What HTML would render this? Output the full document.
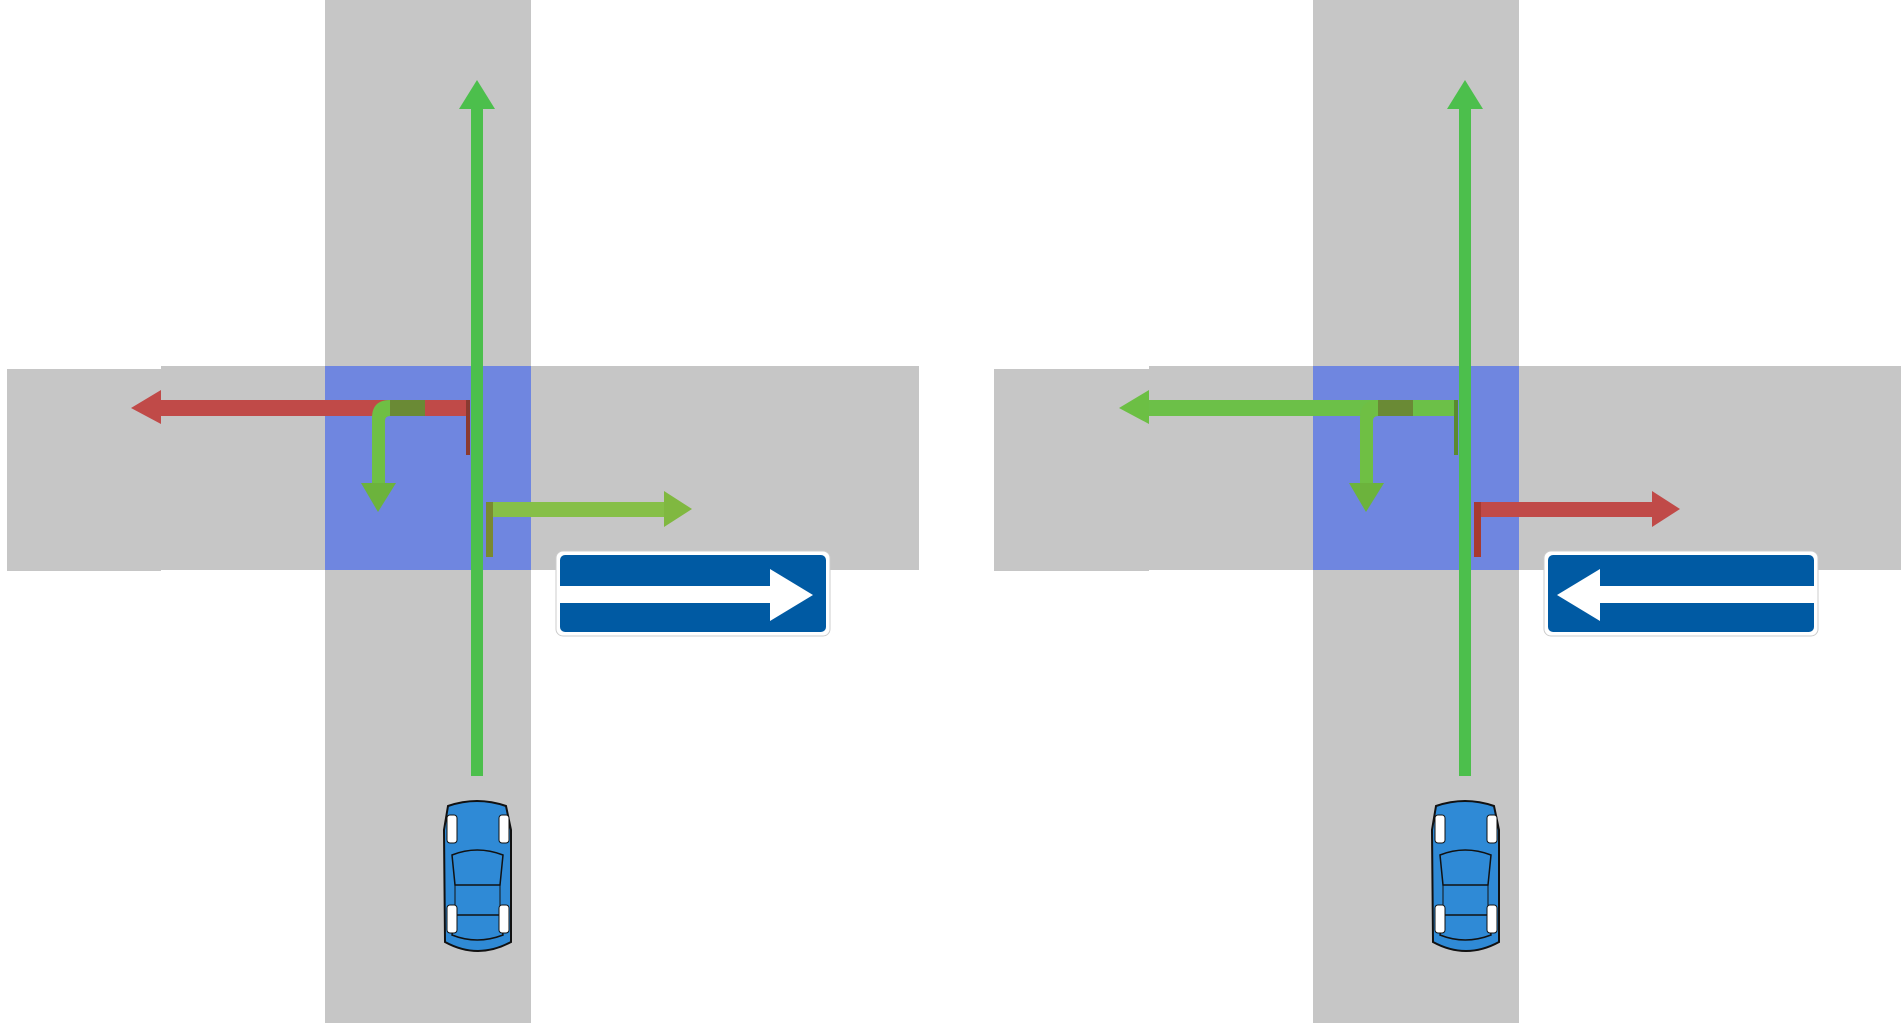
<!DOCTYPE html>
<html><head><meta charset="utf-8"><style>html,body{margin:0;padding:0;background:#fff;overflow:hidden}svg{display:block}</style></head>
<body>
<svg width="1901" height="1023" viewBox="0 0 1901 1023" xmlns="http://www.w3.org/2000/svg">
<defs>
<g id="car">
  <path d="M448,806 Q477,796 506,806 L511,830 L511,942 Q478,960 445,942 L444,830 Z" fill="#2f8ad6" stroke="#111" stroke-width="2"/>
  <path d="M452,855 Q477,845 503,855 L500,885 L455,885 Z" fill="#2f8ad6" stroke="#111" stroke-width="1.5"/>
  <path d="M455,915 L500,915 L503,935 Q477,945 452,935 Z" fill="#2f8ad6" stroke="#111" stroke-width="1.5"/>
  <line x1="455" y1="885" x2="455" y2="915" stroke="#111" stroke-width="1"/>
  <line x1="500" y1="885" x2="500" y2="915" stroke="#111" stroke-width="1"/>
  <rect x="447" y="815" width="10" height="28" rx="3" fill="#fff" stroke="#111"/>
  <rect x="499" y="815" width="10" height="28" rx="3" fill="#fff" stroke="#111"/>
  <rect x="447" y="905" width="10" height="28" rx="3" fill="#fff" stroke="#111"/>
  <rect x="499" y="905" width="10" height="28" rx="3" fill="#fff" stroke="#111"/>
</g>
</defs>

<!-- LEFT PANEL -->
<rect x="325" y="0" width="206" height="1023" fill="#c6c6c6"/>
<rect x="7" y="369" width="154" height="202" fill="#c6c6c6"/>
<rect x="161" y="366" width="758" height="204" fill="#c6c6c6"/>
<rect x="325" y="366" width="206" height="204" fill="#6f86e0"/>
<rect x="155" y="400" width="313" height="16" fill="#c04a48"/>
<polygon points="131,408 161,390 161,424" fill="#c04a48"/>
<rect x="466" y="400" width="4" height="55" fill="#8a3a30"/>
<path d="M372,485 L372,418 Q372,400 390,400 L425,400 L425,416 L390,416 Q385,416 385,421 L385,485 Z" fill="#6fbf44"/>
<rect x="390" y="400" width="35" height="16" fill="#6a8a35"/>
<polygon points="361,483 396,483 378,512" fill="#6cb33c"/>
<rect x="486" y="502" width="180" height="15" fill="#86bf48"/>
<polygon points="664,491 692,509 664,527" fill="#80b840"/>
<rect x="486" y="502" width="7" height="55" fill="#7a8a30"/>
<rect x="471" y="100" width="12" height="676" fill="#4cbf4c"/>
<polygon points="477,80 459,109 495,109" fill="#4cbf4c"/>
<use href="#car"/>
<rect x="556" y="551" width="274" height="85" rx="7" fill="#fff" stroke="#ccc"/>
<rect x="560" y="555" width="266" height="77" rx="5" fill="#005aa3"/>
<rect x="560" y="586" width="212" height="17" fill="#fff"/>
<polygon points="770,569 813,595 770,621" fill="#fff"/>

<!-- RIGHT PANEL -->
<g transform="translate(988,0)">
<rect x="325" y="0" width="206" height="1023" fill="#c6c6c6"/>
<rect x="6" y="369" width="155" height="202" fill="#c6c6c6"/>
<rect x="161" y="366" width="760" height="204" fill="#c6c6c6"/>
<rect x="325" y="366" width="206" height="204" fill="#6f86e0"/>
<rect x="155" y="400" width="313" height="16" fill="#6cc048"/>
<polygon points="131,408 161,390 161,424" fill="#6cbf44"/>
<rect x="466" y="400" width="4" height="55" fill="#5a8a30"/>
<path d="M372,485 L372,418 Q372,400 390,400 L425,400 L425,416 L390,416 Q385,416 385,421 L385,485 Z" fill="#6fbf44"/>
<rect x="390" y="400" width="35" height="16" fill="#6a8a35"/>
<polygon points="361,483 396,483 378,512" fill="#6cb33c"/>
<rect x="486" y="502" width="180" height="15" fill="#c04a48"/>
<polygon points="664,491 692,509 664,527" fill="#c04a48"/>
<rect x="486" y="502" width="7" height="55" fill="#a83a30"/>
<rect x="471" y="100" width="12" height="676" fill="#4cbf4c"/>
<polygon points="477,80 459,109 495,109" fill="#4cbf4c"/>
<use href="#car"/>
<rect x="556" y="551" width="274" height="85" rx="7" fill="#fff" stroke="#ccc"/>
<rect x="560" y="555" width="266" height="77" rx="5" fill="#005aa3"/>
<rect x="610" y="586" width="216" height="17" fill="#fff"/>
<polygon points="612,569 569,595 612,621" fill="#fff"/>
</g>
</svg>
</body></html>
